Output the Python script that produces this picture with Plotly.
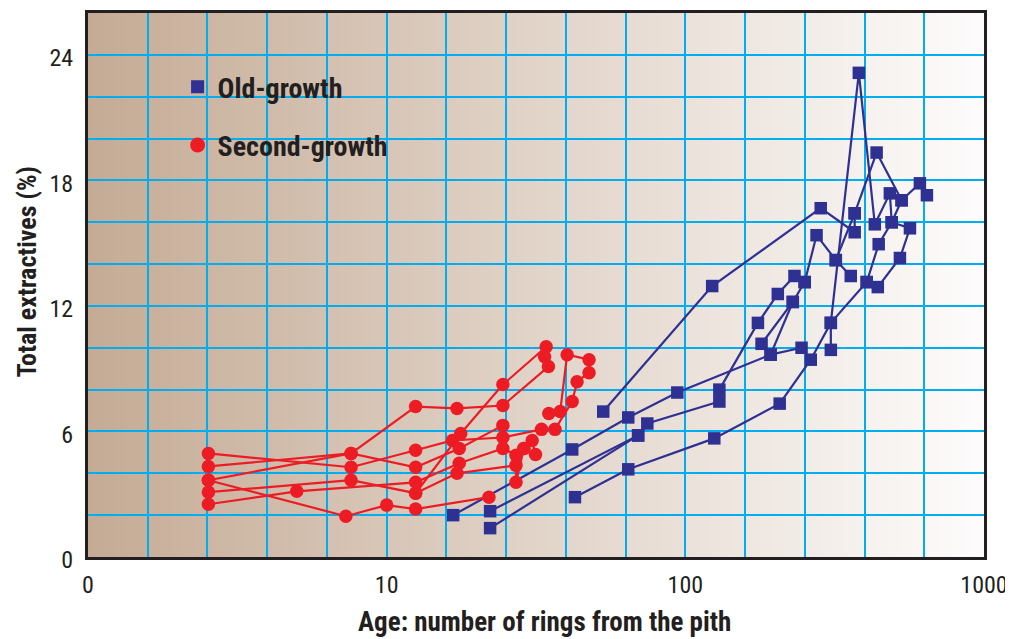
import plotly.graph_objects as go

# ---------------- data (age in rings, total extractives %) ----------------
# Second-growth trees
sg1_age = [2.53, 7.3, 10.0, 12.5, 22.0]
sg1_ext = [3.67, 1.95, 2.48, 2.29, 2.86]
sg2_age = [2.53, 5.0, 12.5, 17.5, 24.5, 27.1, 28.8, 30.7, 31.5]
sg2_ext = [2.52, 3.14, 3.57, 4.48, 5.19, 4.86, 5.19, 5.57, 4.90]
sg3_age = [2.53, 7.6, 12.5, 16.6, 24.5, 33.0, 36.6, 41.8, 43.4, 47.6, 47.6, 40.2, 38.1, 34.9]
sg3_ext = [4.95, 4.29, 5.10, 5.57, 5.71, 6.10, 6.10, 7.43, 8.38, 8.81, 9.43, 9.67, 6.95, 6.86]
sg4_age = [2.53, 7.6, 12.5, 17.2, 24.5, 34.8, 33.8]
sg4_ext = [4.33, 4.95, 7.19, 7.10, 7.24, 9.10, 9.57]
sg5_age = [2.53, 7.6, 12.5, 17.7, 24.5, 34.2]
sg5_ext = [3.10, 3.67, 3.05, 5.90, 8.24, 10.05]
sg6_age = [2.53, 7.6, 12.5, 17.5, 24.5]
sg6_ext = [3.67, 4.95, 4.29, 5.19, 6.29]
sg7_age = [12.5, 17.2, 27.1, 27.1, 28.8]
sg7_ext = [3.05, 4.00, 4.38, 3.57, 5.19]

# Old-growth trees
og1_age = [16.7, 41.8, 64.4, 94.0, 193, 245]
og1_ext = [2.00, 5.14, 6.67, 7.86, 9.67, 10.0]
og2_age = [22.2, 69.5, 74.6, 130, 130, 175, 204, 232, 251]
og2_ext = [2.19, 5.81, 6.38, 7.43, 8.00, 11.19, 12.57, 13.43, 13.14]
og3_age = [22.2, 69.5]
og3_ext = [1.38, 5.81]
og4_age = [42.7, 64.4, 125, 207, 263, 307, 405, 444, 491, 530]
og4_ext = [2.86, 4.19, 5.67, 7.33, 9.43, 11.19, 13.14, 14.95, 16.0, 17.05]
og5_age = [53.1, 123, 284, 369, 369, 437, 530, 610, 644]
og5_ext = [6.95, 12.95, 16.67, 15.52, 16.43, 19.33, 17.05, 17.86, 17.29]
og6_age = [180, 229, 251, 275, 319, 358]
og6_ext = [10.19, 12.19, 13.14, 15.38, 14.19, 13.43]
og7_age = [307, 307, 381, 431, 484, 491, 565, 523, 441, 405]
og7_ext = [9.90, 11.19, 23.14, 15.90, 17.38, 16.0, 15.71, 14.29, 12.90, 13.14]
og8_age = [193, 229]
og8_ext = [9.67, 12.19]
og9_age = [369, 319]
og9_ext = [16.43, 14.19]

x_tick_labels = ["0", "10", "100", "1000"]
y_tick_labels = ["0", "6", "12", "18", "24"]
x_title = "Age: number of rings from the pith"
y_title = "Total extractives (%)"

RED = "#ed1c24"
BLUE = "#2e3192"
GRID = "#00aeef"
INK = "#231f20"
FONT = "Roboto Condensed, Liberation Sans Narrow, Arial Narrow, sans-serif"

fig = go.Figure()

old_trees = [(og1_age, og1_ext), (og2_age, og2_ext), (og3_age, og3_ext),
             (og4_age, og4_ext), (og5_age, og5_ext), (og6_age, og6_ext),
             (og7_age, og7_ext), (og8_age, og8_ext), (og9_age, og9_ext)]
second_trees = [(sg1_age, sg1_ext), (sg2_age, sg2_ext), (sg3_age, sg3_ext),
                (sg4_age, sg4_ext), (sg5_age, sg5_ext), (sg6_age, sg6_ext),
                (sg7_age, sg7_ext)]

for ages, vals in old_trees:
    fig.add_trace(go.Scatter(x=ages, y=vals, mode="lines+markers",
                             line=dict(color=BLUE, width=2.2),
                             marker=dict(symbol="square", size=12.5, color=BLUE),
                             showlegend=False, hoverinfo="skip"))
for ages, vals in second_trees:
    fig.add_trace(go.Scatter(x=ages, y=vals, mode="lines+markers",
                             line=dict(color=RED, width=2.2),
                             marker=dict(symbol="circle", size=13.5, color=RED),
                             showlegend=False, hoverinfo="skip"))

# legend entries
fig.add_trace(go.Scatter(x=[None], y=[None], mode="markers", name="Old-growth",
                         marker=dict(symbol="square", size=13, color=BLUE),
                         legendgroup="a"))
fig.add_trace(go.Scatter(x=[None], y=[None], mode="markers", name="Second-growth",
                         marker=dict(symbol="circle", size=15, color=RED),
                         legendgroup="b"))

# gradient background of the plot area
N = 160
c0 = (197, 171, 149)
c1 = (253, 252, 252)
shapes = []
for i in range(N):
    t = i / (N - 1)
    col = tuple(round(c0[k] + (c1[k] - c0[k]) * t) for k in range(3))
    shapes.append(dict(type="rect", xref="paper", yref="paper",
                       x0=i / N, x1=(i + 1) / N + 0.002, y0=0, y1=1,
                       fillcolor="rgb(%d,%d,%d)" % col, line=dict(width=0),
                       layer="below"))

x_grid_vals = [10 ** (k / 5) for k in range(16)]
x_grid_text = [x_tick_labels[k // 5] if k % 5 == 0 else "" for k in range(16)]
y_grid_vals = list(range(0, 27, 2))
y_grid_text = [y_tick_labels[v // 6] if v % 6 == 0 else "" for v in y_grid_vals]

annotations = [
    dict(text="<b>%s</b>" % x_title, xref="paper", yref="paper",
         x=0.51, y=-0.119, xanchor="center", yanchor="middle", showarrow=False,
         font=dict(family=FONT, size=27, color=INK)),
    dict(text="<b>%s</b>" % y_title, xref="paper", yref="paper",
         x=-0.068, y=0.525, xanchor="center", yanchor="middle", showarrow=False,
         textangle=-90, font=dict(family=FONT, size=26, color=INK)),
]

fig.update_layout(
    width=1013, height=639,
    margin=dict(l=80, r=37, t=2, b=90),
    paper_bgcolor="white",
    plot_bgcolor="rgba(0,0,0,0)",
    shapes=shapes,
    annotations=annotations,
    font=dict(family=FONT, color=INK, size=24),
    legend=dict(x=0.1, y=0.91, xanchor="left", yanchor="top",
                bgcolor="rgba(0,0,0,0)", tracegroupgap=19,
                traceorder="grouped",
                font=dict(family=FONT, size=28, color=INK, weight="bold"),
                itemsizing="trace"),
    xaxis=dict(type="log", range=[0, 3],
               tickmode="array", tickvals=x_grid_vals, ticktext=x_grid_text,
               showgrid=True, gridcolor=GRID, gridwidth=2,
               showline=True, mirror=True, linecolor=INK, linewidth=3,
               ticks="outside", ticklen=4, tickcolor="rgba(0,0,0,0)",
               tickfont=dict(size=24, color=INK, family=FONT),
               zeroline=False),
    yaxis=dict(range=[0, 26],
               tickmode="array", tickvals=y_grid_vals, ticktext=y_grid_text,
               showgrid=True, gridcolor=GRID, gridwidth=2,
               showline=True, mirror=True, linecolor=INK, linewidth=3,
               ticks="outside", ticklen=7, tickcolor="rgba(0,0,0,0)",
               ticklabelshift=3,
               tickfont=dict(size=24, color=INK, family=FONT),
               zeroline=False),
)

fig.write_html("out.html")
